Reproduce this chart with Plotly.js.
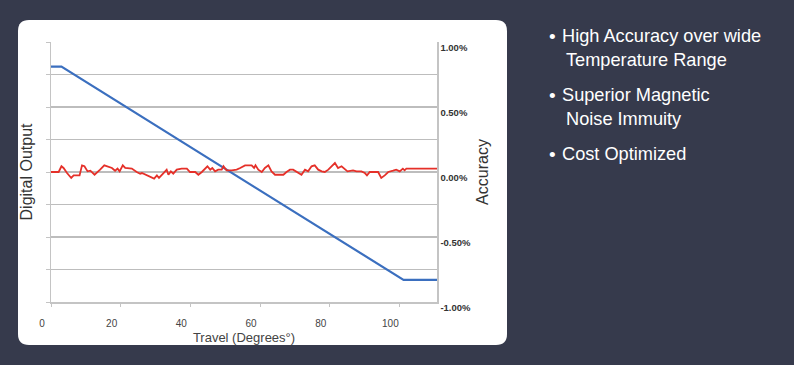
<!DOCTYPE html>
<html>
<head>
<meta charset="utf-8">
<script src="https://cdn.plot.ly/plotly-3.0.1.min.js"></script>
<style>
  html, body { margin: 0; padding: 0; background: #363a4c; }
  #chart { width: 794px; height: 365px; }
</style>
</head>
<body>
<div id="chart"></div>
<script>
// ---- Data ----
// Digital output (blue), left axis in counts
const outputTravel = [0, 3.0, 101.2, 110.8];
const outputCounts = [3707, 3707, 348, 348];

// Accuracy (red), right axis in percent
const accTravel = [0, 2.2, 3.0, 3.6, 4.6, 5.8, 6.5, 8.2, 8.9, 9.6, 10.5, 11.3, 12.5, 13.4, 14.1, 15.3, 16.0, 17.5, 18.4, 19.1, 19.7, 20.6, 21.3, 23.2, 24.6, 25.6, 26.1, 27.5, 28.9, 29.6, 30.4, 31.0, 32.3, 33.2, 33.7, 34.4, 35.1, 36.1, 37.5, 39.0, 39.9, 41.4, 42.3, 43.3, 44.9, 45.7, 46.3, 47.1, 48.0, 49.0, 49.5, 50.4, 51.9, 53.3, 54.3, 55.7, 57.6, 58.3, 58.7, 59.5, 60.5, 61.4, 62.4, 63.3, 64.3, 66.7, 67.6, 68.6, 69.5, 70.5, 71.9, 72.9, 73.8, 74.8, 75.7, 76.7, 77.7, 78.6, 79.6, 81.5, 82.4, 83.4, 84.3, 85.1, 86.7, 87.7, 89.1, 90.1, 90.7, 91.5, 93.9, 94.8, 95.8, 96.8, 98.2, 99.1, 100.1, 101.0, 101.5, 102.0, 110.8];
const accPct = [0, 0, 0.044, 0.031, -0.008, -0.046, -0.026, -0.026, 0.051, 0.044, 0.005, 0.010, -0.021, 0.005, 0.018, 0.051, 0.044, 0.031, 0.010, 0.026, 0.005, 0.051, 0.031, 0.026, 0, -0.013, -0.008, -0.026, -0.046, -0.051, -0.026, -0.046, -0.008, 0.018, -0.021, 0.005, -0.013, 0.018, 0.026, 0.026, 0, 0, -0.021, 0, 0.044, 0.018, 0.031, 0.005, 0.018, 0.018, 0.044, 0.013, 0.013, 0.018, 0.031, 0.051, 0.051, 0.031, 0.051, 0.018, 0, 0.031, 0.051, 0.005, -0.021, -0.021, 0, 0.018, 0.018, 0, -0.021, 0.018, 0.005, 0.044, 0.051, 0.018, 0.005, 0, 0.018, 0.069, 0.031, 0.044, 0.026, 0.005, 0.013, 0.005, 0.005, -0.008, -0.026, 0, 0, -0.046, -0.026, 0, 0.010, 0.018, 0.005, 0.026, 0.013, 0.026, 0.026];

const xTicks = [0, 20, 40, 60, 80, 100];
const xTickLabels = ['0', '20', '40', '60', '80', '100'];
const accTicks = [-1, -0.5, 0, 0.5, 1];
const accTickLabels = ['-1.00%', '-0.50%', '0.00%', '0.50%', '1.00%'];

const bullets = [
  ['•', 'High Accuracy over wide'],
  ['', 'Temperature Range'],
  ['•', 'Superior Magnetic'],
  ['', 'Noise Immuity'],
  ['•', 'Cost Optimized']
];

// ---- Layout geometry (pixels) ----
const W = 794, H = 365;
const M = {l: 51, r: 357, t: 42, b: 63};
const PW = W - M.l - M.r, PH = H - M.t - M.b;
const px = x => (x - M.l) / PW;
const py = y => (H - M.b - y) / PH;

function roundRect(x0, y0, x1, y1, r) {
  const X = v => px(v).toFixed(5), Y = v => py(v).toFixed(5);
  return 'M' + X(x0 + r) + ',' + Y(y0) +
    ' L' + X(x1 - r) + ',' + Y(y0) +
    ' Q' + X(x1) + ',' + Y(y0) + ' ' + X(x1) + ',' + Y(y0 + r) +
    ' L' + X(x1) + ',' + Y(y1 - r) +
    ' Q' + X(x1) + ',' + Y(y1) + ' ' + X(x1 - r) + ',' + Y(y1) +
    ' L' + X(x0 + r) + ',' + Y(y1) +
    ' Q' + X(x0) + ',' + Y(y1) + ' ' + X(x0) + ',' + Y(y1 - r) +
    ' L' + X(x0) + ',' + Y(y0 + r) +
    ' Q' + X(x0) + ',' + Y(y0) + ' ' + X(x0 + r) + ',' + Y(y0) + ' Z';
}

const bulletY = [36, 60, 95, 119, 154];
const annotations = [];
bullets.forEach((b, i) => {
  if (b[0]) {
    annotations.push({xref: 'paper', yref: 'paper', x: px(547), y: py(bulletY[i]),
      xanchor: 'left', yanchor: 'middle', showarrow: false, text: b[0],
      font: {family: 'Liberation Sans, Arial, sans-serif', size: 19, color: '#ffffff'}});
  }
  annotations.push({xref: 'paper', yref: 'paper', x: px(b[0] ? 560 : 564), y: py(bulletY[i]),
    xanchor: 'left', yanchor: 'middle', showarrow: false, text: b[1],
    font: {family: 'Liberation Sans, Arial, sans-serif', size: 18.2, color: '#ffffff'}});
});

const tickFont = 'Liberation Sans Narrow, Arial Narrow, Liberation Sans, Arial, sans-serif';

const traces = [
  {x: outputTravel, y: outputCounts, type: 'scatter', mode: 'lines', yaxis: 'y',
   line: {color: '#3b6fbf', width: 2.2}, name: 'Digital Output', hoverinfo: 'skip'},
  {x: accTravel, y: accPct, type: 'scatter', mode: 'lines', yaxis: 'y2',
   line: {color: '#e53029', width: 1.8}, name: 'Accuracy', hoverinfo: 'skip'}
];

const layout = {
  width: W, height: H, autosize: false,
  margin: M,
  paper_bgcolor: '#363a4c',
  plot_bgcolor: '#ffffff',
  showlegend: false,
  font: {family: 'Liberation Sans, Arial, sans-serif'},
  xaxis: {
    range: [0, 110.8], tickvals: xTicks, ticktext: xTickLabels,
    ticks: 'outside', ticklen: 3, tickcolor: '#c4c4c4',
    showline: true, linecolor: '#c4c4c4', linewidth: 1.5,
    showgrid: false, zeroline: false,
    tickfont: {family: tickFont, size: 10, color: '#444444'},
    ticklabelshift: -9, ticklabelstandoff: 8,
    title: {text: 'Travel (Degrees°)', font: {size: 13, color: '#444444'}, standoff: 5}
  },
  yaxis: {
    range: [0, 4096], dtick: 512, tick0: 0,
    showticklabels: false, ticks: 'outside', ticklen: 4, tickcolor: '#c4c4c4',
    showgrid: true, gridcolor: '#bdbdbd', gridwidth: 1.2,
    showline: true, linecolor: '#c4c4c4', linewidth: 1.5, zeroline: false,
    title: {text: 'Digital Output', font: {size: 16, color: '#333333'}, standoff: 9}
  },
  yaxis2: {
    overlaying: 'y', side: 'right', range: [-1, 1],
    tickvals: accTicks, ticktext: accTickLabels,
    showgrid: false, zeroline: false,
    showline: true, linecolor: '#c4c4c4', linewidth: 1.5,
    ticks: '', ticklabelshift: 6, ticklabelstandoff: 0,
    tickfont: {size: 9.5, color: '#333333', weight: 'bold'},
    title: {text: 'Accuracy', font: {size: 16, color: '#333333'}, standoff: 6}
  },
  shapes: [{
    type: 'path', xref: 'paper', yref: 'paper', layer: 'below',
    path: roundRect(18, 20, 507, 345, 11),
    fillcolor: '#ffffff', line: {width: 0}
  }],
  annotations: annotations
};

Plotly.newPlot('chart', traces, layout, {staticPlot: true, displayModeBar: false});
</script>
</body>
</html>
